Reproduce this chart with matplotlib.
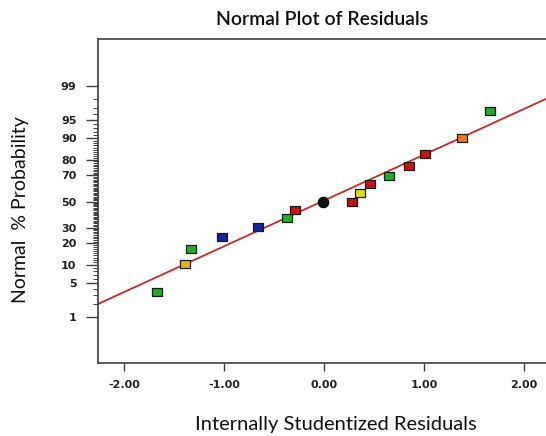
import numpy as np
import matplotlib
matplotlib.use("Agg")
import matplotlib.pyplot as plt
from statistics import NormalDist

# residuals and their normal % probability
resid = [-1.67, -1.39, -1.33, -1.02, -0.66, -0.37, -0.29, -0.01, 0.28, 0.36, 0.46, 0.65, 0.85, 1.01, 1.38, 1.66]
pct = [3.5, 10.4, 17.1, 23.8, 30.4, 36.8, 43.4, 50.0, 50.0, 57.1, 63.5, 69.8, 76.4, 83.2, 89.8, 96.6]
colors = ["#1fae2a", "#e0b81c", "#1fae2a", "#1424a8", "#1424a8", "#1fae2a", "#c41414", "#101010",
          "#c41414", "#dcdc1c", "#c41414", "#1fae2a", "#c41414", "#c41414", "#f07812", "#1fae2a"]
shapes = ["r", "r", "r", "r", "r", "r", "r", "o", "r", "r", "r", "r", "r", "r", "r", "r"]

# reference line end points
line_x = [-2.26, 2.22]
line_pct = [1.96, 98.05]

ytick_vals = [1, 5, 10, 20, 30, 50, 70, 80, 90, 95, 99]
xtick_vals = [-2.0, -1.0, 0.0, 1.0, 2.0]

nd = NormalDist()

def fwd(p):
    p = np.clip(np.asarray(p, dtype=float), 1e-6, 100 - 1e-6)
    return np.vectorize(lambda v: nd.inv_cdf(v / 100.0))(p)

def inv(z):
    z = np.asarray(z, dtype=float)
    return np.vectorize(lambda v: nd.cdf(v) * 100.0)(z)

rect = [(-1.4, -1), (1.4, -1), (1.4, 1), (-1.4, 1), (-1.4, -1)]

fig = plt.figure(figsize=(5.46, 4.36), dpi=100)
ax = fig.add_axes([0.1795, 0.1674, 0.8205, 0.7432])
ax.set_yscale("function", functions=(fwd, inv))

ax.plot(line_x, line_pct, color="#c8282a", lw=1.3, zorder=2)
for x, y, c, s in zip(resid, pct, colors, shapes):
    if s == "o":
        ax.plot(x, y, marker="o", ms=7.5, mfc=c, mec="#000000", mew=0.8, ls="none", zorder=3)
    else:
        ax.plot(x, y, marker=rect, ms=7.5, mfc=c, mec="#1a1a1a", mew=0.9, ls="none", zorder=3)

ax.set_xlim(-2.26, 2.22)
ax.set_ylim(0.058, 99.946)

ax.set_yticks(ytick_vals)
ax.set_yticklabels([str(v) for v in ytick_vals])
ax.set_yticks(list(range(1, 100)), minor=True)
ax.set_xticks(xtick_vals)
ax.set_xticklabels(["%.2f" % v for v in xtick_vals])

ax.tick_params(axis="y", which="major", length=8.5, width=1.0, color="#404040", pad=7)
ax.tick_params(axis="y", which="minor", length=3.6, width=0.7, color="#404040")
ax.tick_params(axis="x", which="major", length=6, width=1.0, color="#404040", pad=6)
ax.tick_params(axis="x", which="minor", length=0)
for lab in ax.get_xticklabels() + ax.get_yticklabels():
    lab.set_fontweight("bold")
    lab.set_fontsize(8)
    lab.set_color("#222222")

ax.spines["right"].set_visible(False)
for side in ["left", "top", "bottom"]:
    ax.spines[side].set_color("#404040")
    ax.spines[side].set_linewidth(1.2)

ax.set_title("Normal Plot of Residuals", family="Lato", fontsize=14, fontweight="semibold",
             pad=10, color="#111111")
ax.set_xlabel("Internally Studentized Residuals", family="Lato", fontsize=14.5, color="#111111")
ax.xaxis.set_label_coords(0.531, -0.19)
ax.xaxis.label.set_va("center")
ax.set_ylabel("Normal  % Probability", family="Lato", fontsize=14, color="#111111")
ax.yaxis.set_label_coords(-0.174, 0.472)
ax.yaxis.label.set_va("center")

fig.savefig("out.png", dpi=100)
